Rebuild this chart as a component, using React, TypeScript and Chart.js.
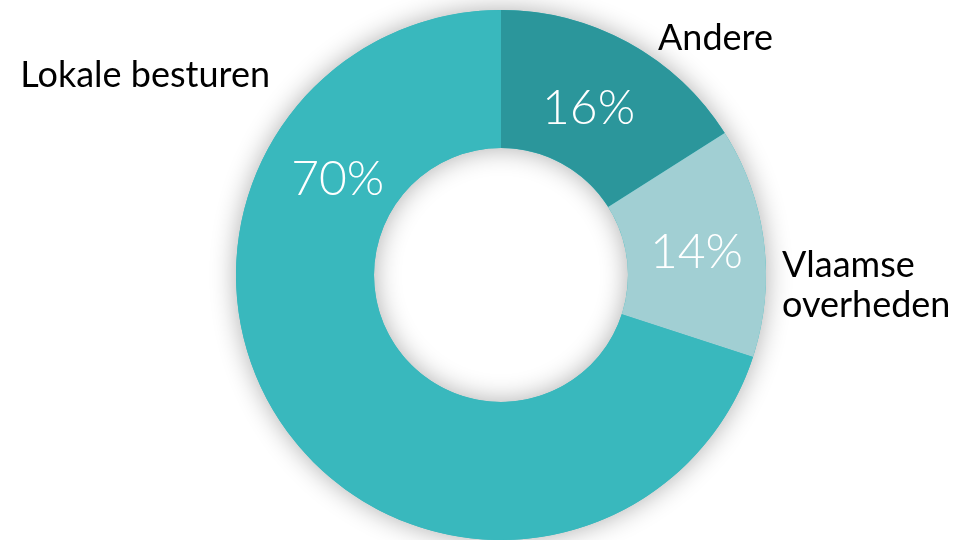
import React, { useEffect, useRef } from "react";
import { Chart, registerables } from "chart.js";

Chart.register(...registerables);

const categories = ["Andere", "Vlaamse overheden", "Lokale besturen"];
const values = [16, 14, 70];
const colors = ["#2b969b", "#a1cfd3", "#39b8bd"];

const shadowPlugin = {
  id: "ringShadow",
  beforeDatasetsDraw(chart: any) {
    const meta = chart.getDatasetMeta(0);
    const arc = meta.data[0];
    if (!arc) return;
    const { x, y, outerRadius, innerRadius } = arc.getProps(["x", "y", "outerRadius", "innerRadius"], true);
    const ctx = chart.ctx;
    ctx.save();
    ctx.beginPath();
    ctx.arc(x, y, outerRadius, 0, Math.PI * 2);
    ctx.moveTo(x + innerRadius, y);
    ctx.arc(x, y, innerRadius, 0, Math.PI * 2, true);
    ctx.closePath();
    ctx.shadowColor = "rgba(0,0,0,0.32)";
    ctx.shadowBlur = 26;
    ctx.shadowOffsetX = 0;
    ctx.shadowOffsetY = 0;
    ctx.fillStyle = colors[2];
    ctx.fill("evenodd");
    ctx.restore();
  },
};

const labelPlugin = {
  id: "labels",
  afterDatasetsDraw(chart: any) {
    const meta = chart.getDatasetMeta(0);
    const ctx = chart.ctx;
    const first = meta.data[0];
    if (!first) return;
    const { x: cx, y: cy, outerRadius: R, innerRadius: r } = first.getProps(
      ["x", "y", "outerRadius", "innerRadius"],
      true
    );
    ctx.save();
    // percentage labels
    ctx.fillStyle = "#ffffff";
    ctx.font = "300 48px Lato";
    ctx.textAlign = "center";
    ctx.textBaseline = "middle";
    const nudgeX = [-5, 5, 2];
    meta.data.forEach((a: any, i: number) => {
      const { startAngle, endAngle } = a.getProps(["startAngle", "endAngle"], true);
      let ang = (startAngle + endAngle) / 2;
      if (i === 2) ang = -Math.PI / 2 - (59.4 * Math.PI) / 180;
      const rr = (R + r) / 2 - 4;
      const px = cx + Math.cos(ang) * rr;
      const py = cy + Math.sin(ang) * rr;
      ctx.fillText(values[i] + "%", px + nudgeX[i], py + 2);
    });
    // outside category labels
    ctx.fillStyle = "#000000";
    ctx.font = "36px Lato";
    ctx.textBaseline = "alphabetic";
    ctx.textAlign = "left";
    ctx.fillText(categories[0], cx + 157, cy - 225);
    const parts = categories[1].split(" ");
    ctx.fillText(parts[0], cx + 281, cy + 2);
    ctx.fillText(parts[1], cx + 281, cy + 42);
    ctx.textAlign = "right";
    ctx.fillText(categories[2], cx - 231, cy - 188);
    ctx.restore();
  },
};

export default function App() {
  const ref = useRef<HTMLCanvasElement>(null);
  useEffect(() => {
    if (!ref.current) return;
    const chart = new Chart(ref.current, {
      type: "doughnut",
      data: {
        labels: categories,
        datasets: [
          {
            data: values,
            backgroundColor: colors,
            borderWidth: 0,
            hoverOffset: 0,
          },
        ],
      },
      options: {
        responsive: false,
        animation: false,
        radius: 265,
        cutout: 127,
        layout: { padding: { top: 10, bottom: 0, left: 44, right: 0 } },
        plugins: {
          legend: { display: false },
          tooltip: { enabled: false },
        },
        events: [],
      } as any,
      plugins: [shadowPlugin, labelPlugin],
    });
    return () => chart.destroy();
  }, []);
  return (
    <div style={{ position: "absolute", left: 0, top: 0, width: 958, height: 540, background: "#fff" }}>
      <canvas ref={ref} width={958} height={540} style={{ width: 958, height: 540, display: "block" }} />
    </div>
  );
}
